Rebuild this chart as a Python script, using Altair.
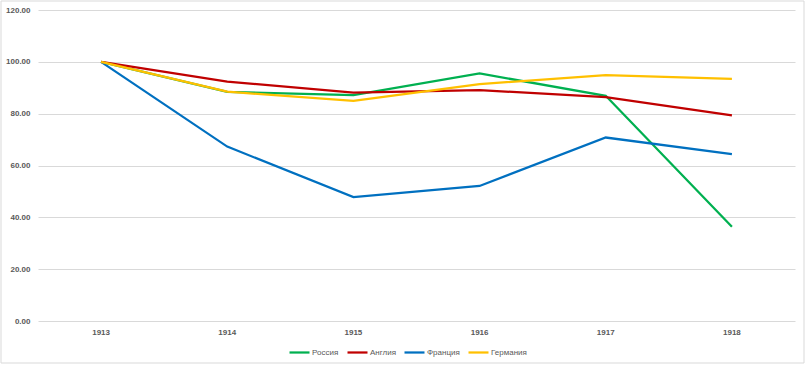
import altair as alt
import pandas as pd

years = ["1913", "1914", "1915", "1916", "1917", "1918"]
series = ["Россия", "Англия", "Франция", "Германия"]
russia = [100.0, 88.4, 87.2, 95.5, 86.9, 36.4]
england = [100.0, 92.4, 88.1, 89.1, 86.4, 79.3]
france = [100.0, 67.3, 47.8, 52.1, 70.8, 64.4]
germany = [100.0, 88.5, 84.9, 91.4, 94.9, 93.4]
colors = ["#00b050", "#c00000", "#0070c0", "#ffc000"]

rows = []
for i, (name, vals) in enumerate(zip(series, [russia, england, france, germany])):
    for y, v in zip(years, vals):
        rows.append({"year": y, "value": v, "series": name, "order": i})
df = pd.DataFrame(rows)

font = "Liberation Sans"
lines = alt.Chart(df).mark_line(strokeWidth=2.25, clip=False).encode(
    x=alt.X("year:N", sort=years, title=None,
            scale=alt.Scale(type="band", paddingInner=0, paddingOuter=0),
            axis=alt.Axis(labelAngle=0, domain=False, ticks=False, labelPadding=7,
                          labelFont=font, labelFontSize=8, labelColor="#595959", labelFontWeight="bold")),
    y=alt.Y("value:Q", title=None,
            scale=alt.Scale(domain=[0, 120]),
            axis=alt.Axis(values=[0, 20, 40, 60, 80, 100, 120], format=".2f", domain=False, ticks=False,
                          labelPadding=8, gridColor="#d9d9d9", gridWidth=1,
                          labelFont=font, labelFontSize=8, labelColor="#595959", labelFontWeight="bold")),
    color=alt.Color("series:N", sort=series,
                    scale=alt.Scale(domain=series, range=colors),
                    legend=alt.Legend(title=None, orient="none", legendX=250, legendY=331, direction="horizontal",
                                      symbolType="stroke", symbolStrokeWidth=2.25, symbolSize=400,
                                      labelFont=font, labelFontSize=8, labelColor="#595959",
                                      columnPadding=4, labelOffset=1)),
    order=alt.Order("order:Q"),
    detail="series:N",
)

border = alt.Chart(pd.DataFrame({"a": [0]})).mark_rect(fill=None, stroke="#d9d9d9", strokeWidth=1, clip=False).encode(
    x=alt.value(-37), x2=alt.value(766), y=alt.value(-9), y2=alt.value(353)
)

chart = alt.layer(border, lines).properties(
    width=757, height=311,
    autosize=alt.AutoSizeParams(type="none"),
    padding={"left": 38, "top": 10, "right": 12, "bottom": 54},
    background="white",
).configure_view(stroke=None)

chart.save("out.html", embed_options={"renderer": "svg", "actions": False})
